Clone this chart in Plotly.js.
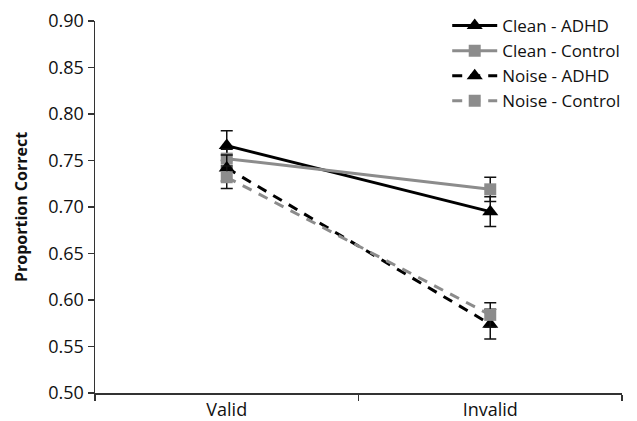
<!DOCTYPE html>
<html>
<head>
<meta charset="utf-8">
<script src="https://cdn.plot.ly/plotly-3.0.1.min.js"></script>
<style>html,body{margin:0;padding:0;background:#fff;}#chart{width:637px;height:421px;}</style>
</head>
<body>
<div id="chart"></div>
<script>
var categories = ["Valid", "Invalid"];
var cleanADHD = [0.766, 0.695];
var cleanADHDErr = [0.016, 0.016];
var cleanControl = [0.752, 0.719];
var cleanControlErr = [0.010, 0.013];
var noiseADHD = [0.742, 0.574];
var noiseADHDErr = [0.014, 0.016];
var noiseControl = [0.732, 0.584];
var noiseControlErr = [0.012, 0.013];
var seriesNames = ["Clean - ADHD", "Clean - Control", "Noise - ADHD", "Noise - Control"];

var black = "#000000", grey = "#8c8c8c";
function tr(name, y, err, color, symbol, dash, size) {
  return {
    x: categories, y: y, name: name, type: "scatter", mode: "lines+markers",
    line: {color: color, width: 3, dash: dash},
    marker: {color: color, symbol: symbol, size: size},
    error_y: {type: "data", array: err, visible: true, color: "#111", thickness: 1.5, width: 6}
  };
}
var data = [
  tr(seriesNames[0], cleanADHD, cleanADHDErr, black, "triangle-up", "solid", 14),
  tr(seriesNames[1], cleanControl, cleanControlErr, grey, "square", "solid", 12),
  tr(seriesNames[2], noiseADHD, noiseADHDErr, black, "triangle-up", "10px,8px", 14),
  tr(seriesNames[3], noiseControl, noiseControlErr, grey, "square", "10px,8px", 12)
];
var layout = {
  width: 637, height: 421,
  margin: {l: 95, r: 15, t: 21, b: 28, autoexpand: false},
  paper_bgcolor: "#fff", plot_bgcolor: "#fff",
  font: {family: "Open Sans, sans-serif", size: 18, color: "#111"},
  showlegend: true,
  legend: {x: 1.008, xanchor: "right", y: 1.035, yanchor: "top", bgcolor: "rgba(0,0,0,0)",
           font: {size: 17, color: "#111"}, tracegroupgap: 0, itemwidth: 45},
  xaxis: {type: "category", range: [-0.5, 1.5], showline: true, linecolor: "#333", linewidth: 1.5,
          ticks: "outside", tickson: "boundaries", ticklen: 6, tickcolor: "#333", tickwidth: 1.5,
          showgrid: false, zeroline: false, tickfont: {size: 18}, automargin: false},
  yaxis: {range: [0.5, 0.9], dtick: 0.05, tickformat: ".2f", showline: true, linecolor: "#333", linewidth: 1.5,
          ticks: "outside", ticklen: 6, tickcolor: "#333", tickwidth: 1.5, showgrid: false, zeroline: false,
          tickfont: {size: 18}, automargin: false,
          title: {text: "<b>Proportion Correct</b>", font: {size: 16}, standoff: 16}}
};
Plotly.newPlot("chart", data, layout, {displayModeBar: false, staticPlot: true});
</script>
</body>
</html>
